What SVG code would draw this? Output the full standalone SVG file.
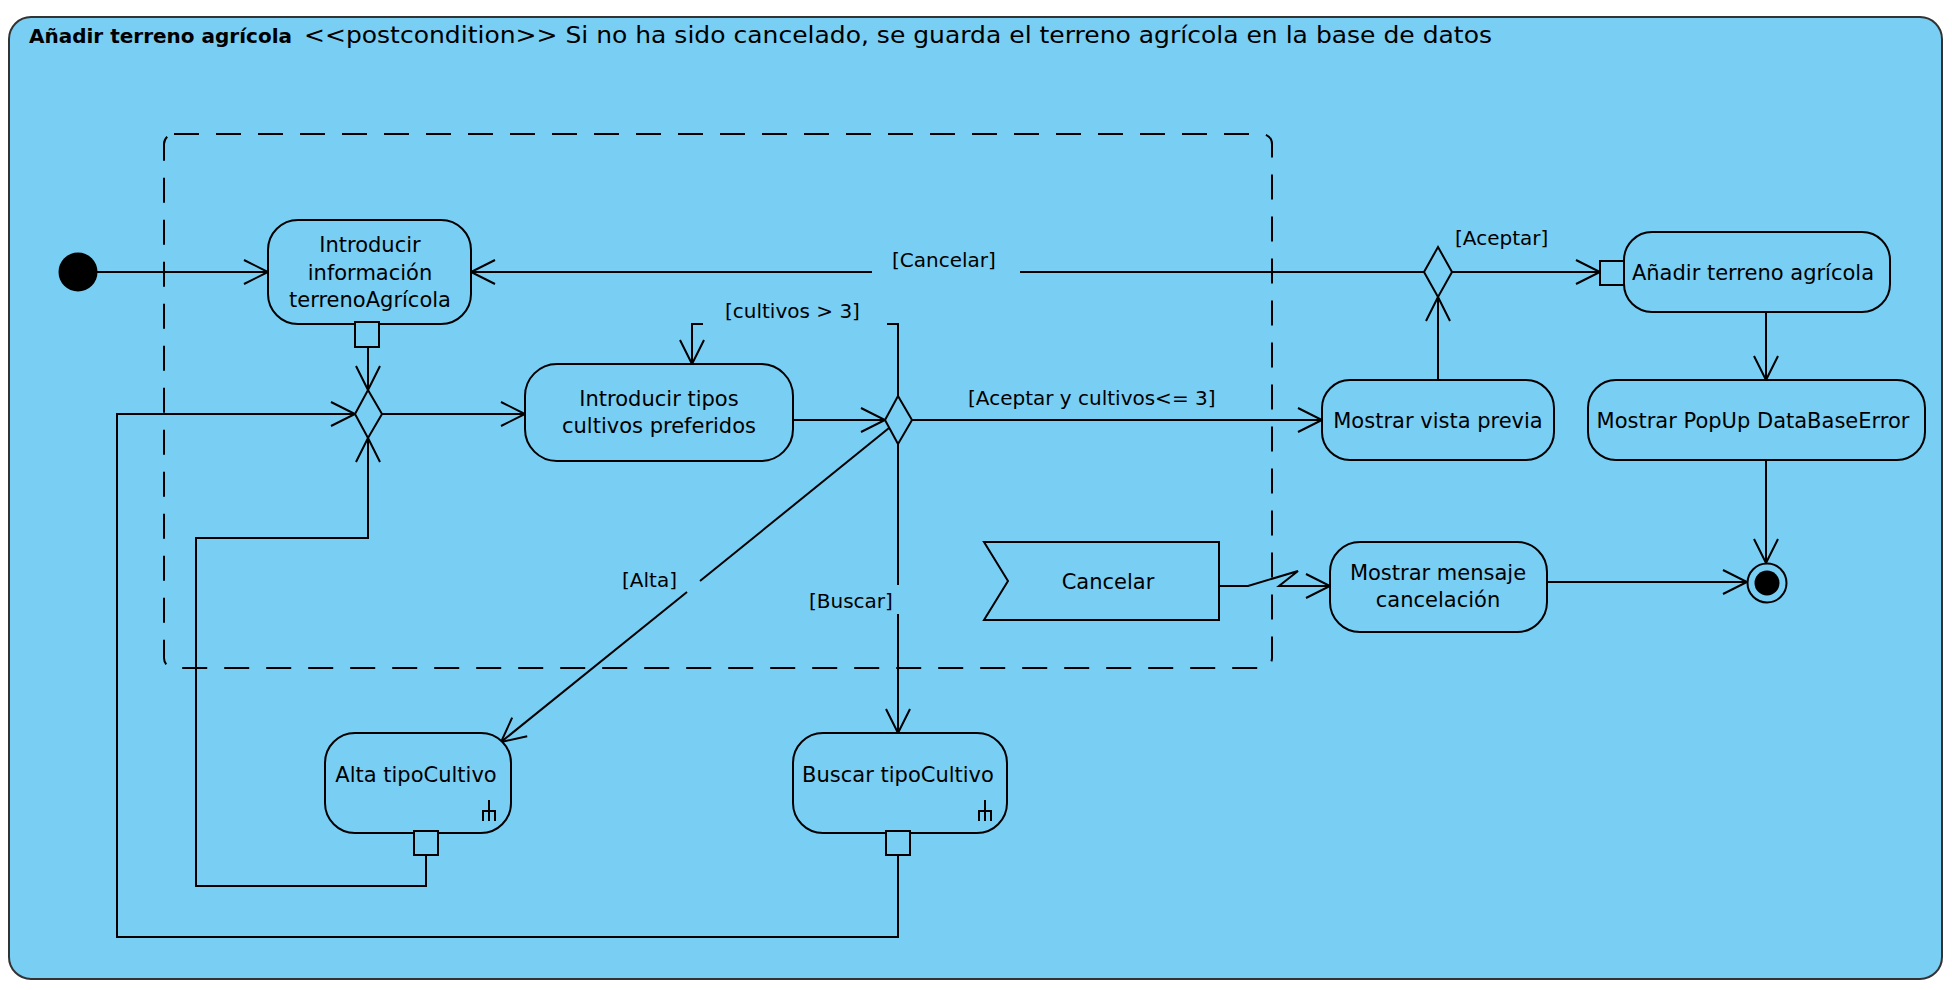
<svg xmlns="http://www.w3.org/2000/svg" width="1952" height="990" viewBox="0 0 1952 990">
<defs>
<marker id="arr" viewBox="-27 -15 30 30" markerWidth="30" markerHeight="30" refX="0" refY="0" orient="auto" markerUnits="userSpaceOnUse">
<path d="M-24,-12 L0,0 L-24,12" fill="none" stroke="#000" stroke-width="2"/>
</marker>
<style>
.node{fill:#79CEF4;stroke:#000;stroke-width:2}
.edge{fill:none;stroke:#000;stroke-width:2;marker-end:url(#arr)}
.line{fill:none;stroke:#000;stroke-width:2}
.t{font-family:"DejaVu Sans",sans-serif;font-size:21px;fill:#000;text-anchor:middle}
.lbl{font-family:"DejaVu Sans",sans-serif;font-size:20px;fill:#000}
</style>
</defs>
<rect width="1952" height="990" fill="#ffffff"/>
<g id="frame">
<rect x="9" y="17" width="1933" height="962" rx="22" fill="#79CEF4" stroke="#333" stroke-width="2"/>
<text x="29" y="43" font-family="DejaVu Sans,sans-serif" font-size="19" font-weight="bold" textLength="263" lengthAdjust="spacingAndGlyphs">Añadir terreno agrícola</text>
<text x="304" y="43" font-family="DejaVu Sans,sans-serif" font-size="23" textLength="1188" lengthAdjust="spacingAndGlyphs">&lt;&lt;postcondition&gt;&gt; Si no ha sido cancelado, se guarda el terreno agrícola en la base de datos</text>
</g>
<g id="region">
<rect x="164" y="134" width="1108" height="534" rx="10" fill="none" stroke="#000" stroke-width="2" stroke-dasharray="25 17"/>
</g>
<g id="connectors">
<line class="edge" x1="97" y1="272" x2="268" y2="272"/>
<line class="edge" x1="368" y1="347" x2="368" y2="390"/>
<line class="edge" x1="382" y1="414" x2="525" y2="414"/>
<line class="edge" x1="793" y1="420" x2="885" y2="420"/>
<polyline class="line" points="898,396 898,324 887,324"/>
<polyline class="edge" points="703,324 692,324 692,364"/>
<line class="edge" x1="912" y1="420" x2="1322" y2="420"/>
<line class="line" x1="898" y1="444" x2="898" y2="585"/>
<line class="edge" x1="898" y1="614" x2="898" y2="733"/>
<line class="line" x1="889" y1="428" x2="700" y2="581"/>
<line class="edge" x1="687" y1="592" x2="501" y2="742"/>
<line class="edge" x1="1438" y1="380" x2="1438" y2="297"/>
<line class="line" x1="1424" y1="272" x2="1020" y2="272"/>
<line class="edge" x1="872" y1="272" x2="471" y2="272"/>
<line class="edge" x1="1452" y1="272" x2="1600" y2="272"/>
<line class="edge" x1="1766" y1="312" x2="1766" y2="380"/>
<line class="edge" x1="1766" y1="460" x2="1766" y2="563"/>
<line class="edge" x1="1547" y1="582" x2="1747" y2="582"/>
<polyline class="edge" points="1219,586 1248,586 1298,571 1279,586 1330,586"/>
<polyline class="edge" points="426,855 426,886 196,886 196,538 368,538 368,438"/>
<polyline class="edge" points="898,855 898,937 117,937 117,414 355,414"/>
<text x="892" y="267" class="lbl">[Cancelar]</text>
<text x="725" y="318" class="lbl">[cultivos &gt; 3]</text>
<text x="968" y="405" class="lbl">[Aceptar y cultivos&lt;= 3]</text>
<text x="1455" y="245" class="lbl">[Aceptar]</text>
<text x="622" y="587" class="lbl">[Alta]</text>
<text x="809" y="608" class="lbl">[Buscar]</text>
</g>
<g id="initial">
<circle cx="78" cy="272" r="19.5" fill="#000"/>
</g>
<g id="introducirInfo">
<rect class="node" x="268" y="220" width="203" height="104" rx="30"/>
<text class="t" x="370" y="252">Introducir</text>
<text class="t" x="370" y="280">información</text>
<text class="t" x="370" y="307">terrenoAgrícola</text>
<rect class="node" x="355" y="322" width="24" height="25"/>
</g>
<g id="merge1">
<polygon class="node" points="368,390 382,414 368,438 355,414"/>
</g>
<g id="introducirTipos">
<rect class="node" x="525" y="364" width="268" height="97" rx="32"/>
<text class="t" x="659" y="406">Introducir tipos</text>
<text class="t" x="659" y="433">cultivos preferidos</text>
</g>
<g id="decision2">
<polygon class="node" points="898,396 912,420 898,444 885,420"/>
</g>
<g id="vistaPrevia">
<rect class="node" x="1322" y="380" width="232" height="80" rx="28"/>
<text class="t" x="1438" y="428">Mostrar vista previa</text>
</g>
<g id="decision3">
<polygon class="node" points="1438,247 1452,272 1438,297 1424,272"/>
</g>
<g id="anadirTerreno">
<rect class="node" x="1624" y="232" width="266" height="80" rx="28"/>
<text class="t" x="1753" y="280">Añadir terreno agrícola</text>
<rect class="node" x="1600" y="261" width="24" height="24"/>
</g>
<g id="popupError">
<rect class="node" x="1588" y="380" width="337" height="80" rx="28"/>
<text class="t" x="1753" y="428">Mostrar PopUp DataBaseError</text>
</g>
<g id="final">
<circle cx="1767" cy="583" r="19.5" fill="#79CEF4" stroke="#000" stroke-width="2"/>
<circle cx="1767" cy="583" r="12.5" fill="#000"/>
</g>
<g id="cancelar">
<polygon class="node" points="984,542 1219,542 1219,620 984,620 1008,581"/>
<text class="t" x="1108" y="589">Cancelar</text>
</g>
<g id="mensajeCancelacion">
<rect class="node" x="1330" y="542" width="217" height="90" rx="30"/>
<text class="t" x="1438" y="580">Mostrar mensaje</text>
<text class="t" x="1438" y="607">cancelación</text>
</g>
<g id="altaTipoCultivo">
<rect class="node" x="325" y="733" width="186" height="100" rx="30"/>
<text class="t" x="416" y="782">Alta tipoCultivo</text>
<path class="line" d="M489,800 V821 M483,821 V811 H495 V821"/>
<rect class="node" x="414" y="831" width="24" height="24"/>
</g>
<g id="buscarTipoCultivo">
<rect class="node" x="793" y="733" width="214" height="100" rx="30"/>
<text class="t" x="898" y="782">Buscar tipoCultivo</text>
<path class="line" d="M985,800 V821 M979,821 V811 H991 V821"/>
<rect class="node" x="886" y="831" width="24" height="24"/>
</g>
</svg>
